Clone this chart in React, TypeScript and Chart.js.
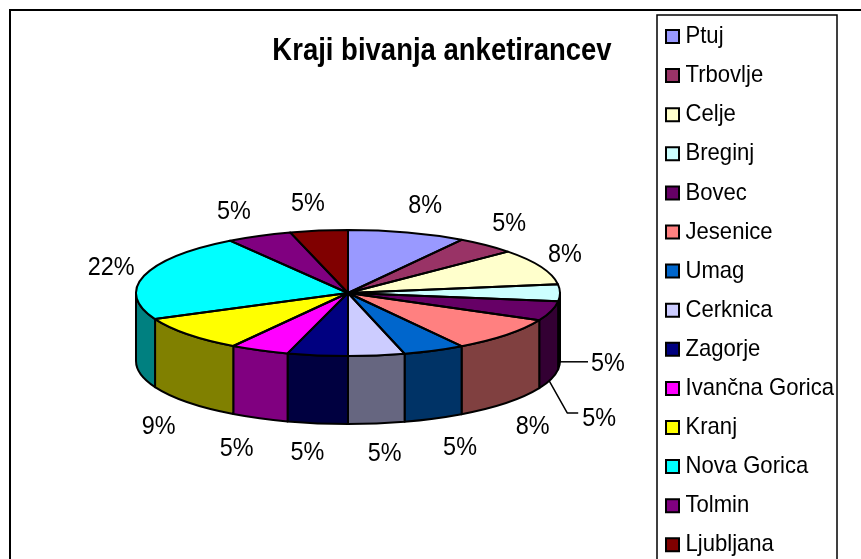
import React, { useEffect, useRef } from "react";
import { Chart, registerables } from "chart.js";

Chart.register(...registerables);

const titleText = "Kraji bivanja anketirancev";
const places = ["Ptuj", "Trbovlje", "Celje", "Breginj", "Bovec", "Jesenice", "Umag", "Cerknica", "Zagorje", "Ivančna Gorica", "Kranj", "Nova Gorica", "Tolmin", "Ljubljana"];
// slice shares as drawn in the picture (angles)
const sliceShares = [9, 4.6, 9.2, 4.3, 5, 8.9, 4.7, 4.3, 4.6, 4.5, 9.1, 22.4, 5, 4.4];
// percentages as printed on the labels
const printedPercents = [8, 5, 8, 5, 5, 8, 5, 5, 5, 5, 9, 22, 5, 5];
const sliceColors = ["#9999FF", "#993366", "#FFFFCC", "#CCFFFF", "#660066", "#FF8080", "#0066CC", "#CCCCFF", "#000080", "#FF00FF", "#FFFF00", "#00FFFF", "#800080", "#800000"];

// label offsets from each slice's rim anchor
const labelOffsets: [number, number][] = [[18, -28], [23, -23], [24, -14], [48, 70], [48, 38], [26, 23], [26, 28], [8, 29], [-10, 28], [-23, 29], [-29, 23], [-33, -9], [-25, -26], [-11, -28]];
// leader lines, relative to the label centre
const leaders: Record<number, [number, number][]> = {
  3: [[-20, -1], [-48, -1]],
  4: [[-21, -4], [-32, -4], [-50, -36]],
};

const W = 861, H = 620;
const CX = 348, CY = 293, RX = 212, RY = 63, DEPTH = 68;

function darken(hex: string) {
  const n = parseInt(hex.slice(1), 16);
  const f = (v: number) => Math.round(v / 2).toString(16).padStart(2, "0");
  return "#" + f((n >> 16) & 255) + f((n >> 8) & 255) + f(n & 255);
}

// the reference text is narrower than the font's natural width
function narrowText(ctx: any, k: number, paint: () => void) {
  const original = ctx.fillText;
  ctx.fillText = function (s: string, x: number, y: number) {
    ctx.save();
    ctx.translate(x, y);
    ctx.scale(k, 1);
    original.call(ctx, s, 0, 0);
    ctx.restore();
  };
  paint();
  delete ctx.fillText;
}

function withNarrowText(box: any, ctx: any, k: number) {
  if (box.__narrow) return;
  box.__narrow = true;
  const original = box.draw.bind(box);
  box.draw = (area: any) => narrowText(ctx, k, () => original(area));
}

const piePlugin = {
  id: "tiltedPie",
  beforeDraw(chart: any) {
    const { ctx } = chart;
    ctx.save();
    ctx.fillStyle = "#fff";
    ctx.fillRect(0, 0, W, H);
    ctx.strokeStyle = "#000";
    ctx.lineWidth = 2;
    ctx.strokeRect(10, 10, 1000, 1000);
    ctx.lineWidth = 1.5;
    ctx.strokeRect(657, 15, 180, 1000);
    ctx.restore();
    const t = chart.titleBlock;
    t.left = 142; t.right = 742; t.top = 33; t.bottom = 72;
    const l = chart.legend;
    l.left = 656.4; l.right = 836; l.top = 9.4; l.bottom = 2000;
    withNarrowText(t, ctx, 0.887);
    withNarrowText(l, ctx, 0.92);
  },
  beforeDatasetsDraw(chart: any) {
    const { ctx } = chart;
    const arcs = chart.getDatasetMeta(0).data;
    ctx.save();
    ctx.lineWidth = 2;
    ctx.strokeStyle = "#000";
    ctx.lineJoin = "round";
    arcs.forEach((arc: any, i: number) => {
      const a0 = Math.max(arc.startAngle, 0);
      const a1 = Math.min(arc.endAngle, Math.PI);
      if (a1 <= a0) return;
      ctx.beginPath();
      ctx.ellipse(CX, CY, RX, RY, 0, a0, a1);
      ctx.lineTo(CX + RX * Math.cos(a1), CY + RY * Math.sin(a1) + DEPTH);
      ctx.ellipse(CX, CY + DEPTH, RX, RY, 0, a1, a0, true);
      ctx.closePath();
      ctx.fillStyle = darken(sliceColors[i]);
      ctx.fill();
      ctx.stroke();
    });
    ctx.restore();
    const a = arcs[0];
    ctx.save();
    ctx.translate(CX, CY);
    ctx.scale(RX / a.outerRadius, RY / a.outerRadius);
    ctx.translate(-a.x, -a.y);
  },
  afterDatasetsDraw(chart: any) {
    const { ctx } = chart;
    ctx.restore();
    const arcs = chart.getDatasetMeta(0).data;
    ctx.save();
    ctx.lineWidth = 2;
    ctx.strokeStyle = "#000";
    ctx.lineJoin = "round";
    arcs.forEach((arc: any) => {
      ctx.beginPath();
      ctx.moveTo(CX, CY);
      ctx.ellipse(CX, CY, RX, RY, 0, arc.startAngle, arc.endAngle);
      ctx.closePath();
      ctx.stroke();
    });
    ctx.fillStyle = "#000";
    ctx.font = "26px 'Liberation Sans'";
    ctx.textAlign = "center";
    ctx.textBaseline = "middle";
    arcs.forEach((arc: any, i: number) => {
      const mid = (arc.startAngle + arc.endAngle) / 2;
      const ax = CX + RX * Math.cos(mid);
      const ay = CY + RY * Math.sin(mid) + (Math.sin(mid) > 0.05 ? DEPTH : 0);
      const x = ax + labelOffsets[i][0];
      const y = ay + labelOffsets[i][1];
      narrowText(ctx, 0.9, () => ctx.fillText(printedPercents[i] + "%", x, y + 1.5));
      const path = leaders[i];
      if (path) {
        ctx.lineWidth = 1.5;
        ctx.beginPath();
        path.forEach((p, k) => (k ? ctx.lineTo(x + p[0], y + p[1]) : ctx.moveTo(x + p[0], y + p[1])));
        ctx.stroke();
      }
    });
    ctx.restore();
  },
};

export default function App() {
  const ref = useRef<HTMLCanvasElement>(null);
  useEffect(() => {
    const chart = new Chart(ref.current as HTMLCanvasElement, {
      type: "pie",
      data: {
        labels: places,
        datasets: [{ data: sliceShares, backgroundColor: sliceColors, borderWidth: 0 }],
      },
      plugins: [piePlugin],
      options: {
        responsive: false,
        animation: false,
        plugins: {
          tooltip: { enabled: false },
          title: {
            display: true,
            text: titleText,
            color: "#000",
            padding: 0,
            font: { family: "'Liberation Sans'", size: 31, weight: "bold", lineHeight: 1.2 },
          },
          legend: {
            display: true,
            position: "right",
            align: "start",
            labels: {
              color: "#000",
              font: { family: "'Liberation Sans'", size: 24 },
              boxWidth: 2,
              boxHeight: 13,
              padding: 15.1,
              usePointStyle: true,
              pointStyle: "rect",
              generateLabels(c: any) {
                return Chart.overrides.pie.plugins.legend.labels.generateLabels(c).map((it: any) => ({
                  ...it,
                  strokeStyle: "#000",
                  lineWidth: 2,
                }));
              },
            },
          },
        },
      },
    } as any);
    return () => chart.destroy();
  }, []);
  return (
    <div style={{ position: "fixed", left: 0, top: 0, width: 861, height: 559, overflow: "hidden" }}>
      <canvas ref={ref} width={W} height={H} style={{ display: "block" }} />
    </div>
  );
}
